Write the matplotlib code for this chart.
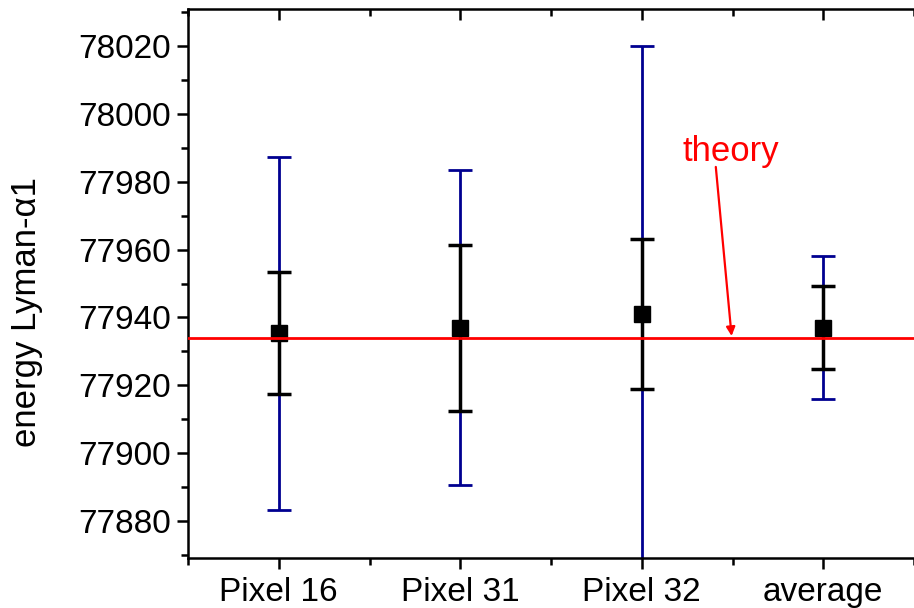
import matplotlib
matplotlib.use("Agg")
import matplotlib.pyplot as plt
from matplotlib.ticker import MultipleLocator

plt.rcParams['font.family'] = ['Liberation Sans', 'DejaVu Sans']

# data
labels = ["Pixel 16", "Pixel 31", "Pixel 32", "average"]
energy = [77935.3, 77937, 77941, 77937]
err_stat = [18, 24.5, 22, 12.3]     # black (inner) error bars
err_total = [52, 46.5, 79, 21]      # blue (outer) error bars
theory = 77934

x = list(range(1, len(labels) + 1))

fig = plt.figure(figsize=(9.14, 6.08), dpi=100)
ax = fig.add_axes([188/914, 50/608, 726/914, 549/608])

# outer blue bars, then black bars with squares on top
ax.errorbar(x, energy, yerr=err_total, fmt='none', ecolor='#000090',
            elinewidth=2, capsize=8.5, capthick=2, zorder=2)
ax.errorbar(x, energy, yerr=err_stat, fmt='s', color='black', ms=11.5,
            ecolor='black', elinewidth=2.5, capsize=8.5, capthick=2.5, zorder=3)

ax.axhline(theory, color='red', lw=2, zorder=4)
ax.text(3.489, 77986.2, "theory", color='red', fontsize=25,
        ha='center', va='baseline')
ax.annotate('', xy=(3.495, theory + 0.5), xytext=(3.408, 77984.4),
            arrowprops=dict(arrowstyle='-|>', color='red', lw=1.6,
                            mutation_scale=13, shrinkA=0, shrinkB=0),
            zorder=5)

ax.set_xlim(0.5, 0.5 + 726/184)
ax.set_ylim(77869, 78031)
ax.set_xticks(x)
ax.set_xticklabels(labels)
ax.set_xticks([0.5, 1.5, 2.5, 3.5, 4.5], minor=True)
ax.yaxis.set_major_locator(MultipleLocator(20))
ax.yaxis.set_minor_locator(MultipleLocator(10))
ax.ticklabel_format(axis='y', useOffset=False, style='plain')

ax.spines['right'].set_visible(False)
for s in ['left', 'bottom', 'top']:
    ax.spines[s].set_linewidth(1.8)

ax.tick_params(axis='y', which='major', direction='out', length=8, width=1.8,
               labelsize=24, pad=4)
ax.tick_params(axis='y', which='minor', direction='out', length=5, width=1.8)
ax.tick_params(axis='x', which='major', direction='out', length=8, width=1.8,
               labelsize=24, pad=6, top=True)
ax.tick_params(axis='x', which='minor', direction='out', length=5, width=1.8,
               top=True)
# top ticks point inward
for t in ax.xaxis.get_major_ticks() + ax.xaxis.get_minor_ticks():
    t.tick2line.set_marker(3)

fig.text(27/914, 1 - 312/608, u"energy Lyman-\u03b11", fontsize=25,
         rotation=90, ha='center', va='center')

fig.savefig("out.png", dpi=100)
